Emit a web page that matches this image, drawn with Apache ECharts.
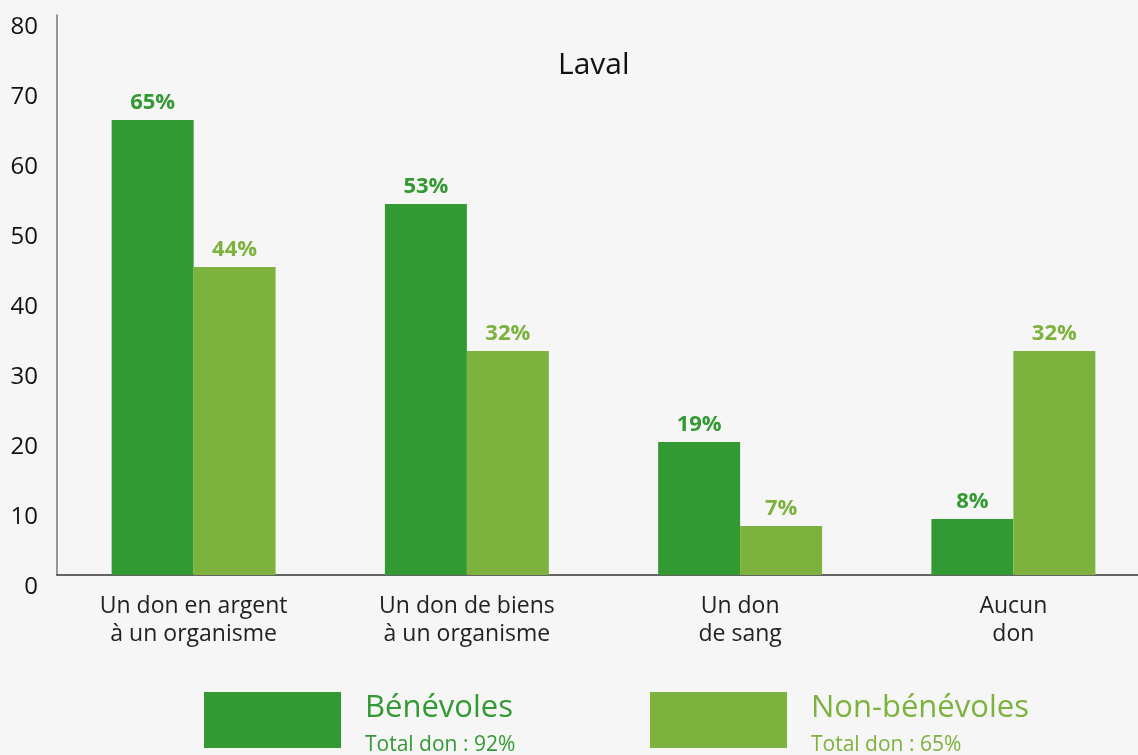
<!DOCTYPE html>
<html>
<head>
<meta charset="utf-8">
<script src="https://cdn.jsdelivr.net/npm/echarts@6/dist/echarts.min.js"></script>
<style>
html,body{margin:0;padding:0;background:#f6f6f6;}
#chart{width:1138px;height:755px;}
</style>
</head>
<body>
<div id="chart"></div>
<script>
const categories = ['Un don en argent\nà un organisme', 'Un don de biens\nà un organisme', 'Un don\nde sang', 'Aucun\ndon'];
const benevoles = [65, 53, 19, 8];
const nonBenevoles = [44, 32, 7, 32];
const seriesNames = ['Bénévoles', 'Non-bénévoles'];
const totals = ['Total don : 92%', 'Total don : 65%'];
const titleText = 'Laval';

const C1 = '#339933', C2 = '#7cb23d';
const FONT = '"Open Sans", sans-serif';

const chart = echarts.init(document.getElementById('chart'));

function legendFor(i, left, color) {
  return {
    data: [seriesNames[i]],
    left: left, top: 692, padding: 0,
    itemWidth: 137, itemHeight: 56, itemGap: 0,
    icon: 'rect',
    selectedMode: false,
    textStyle: {
      padding: [14, 0, 0, 19],
      rich: {
        a: {fontFamily: FONT, fontSize: 31, color: color, lineHeight: 36},
        b: {fontFamily: FONT, fontSize: 21, color: color, lineHeight: 38}
      }
    },
    formatter: function (n) { return '{a|' + n + '}\n{b|' + totals[i] + '}'; }
  };
}

chart.setOption({
  backgroundColor: '#f6f6f6',
  animation: false,
  title: {
    text: titleText, left: 553, top: 45,
    textStyle: {fontFamily: FONT, fontSize: 30, fontWeight: 'normal', color: '#111'}
  },
  legend: [legendFor(0, 204, C1), legendFor(1, 650, C2)],
  grid: {left: 57, right: -12, top: 15, bottom: 180, containLabel: false, outerBoundsMode: 'none'},
  xAxis: {
    type: 'category', data: categories,
    axisLine: {lineStyle: {color: '#333', width: 1.5}},
    axisTick: {show: false},
    axisLabel: {fontFamily: FONT, fontSize: 23, lineHeight: 28, color: '#222', margin: 17}
  },
  yAxis: {
    type: 'value', min: 0, max: 80, interval: 10,
    axisLine: {show: true, lineStyle: {color: '#777', width: 1.5}},
    axisTick: {show: false},
    splitLine: {show: false},
    axisLabel: {fontFamily: FONT, fontSize: 24, color: '#111', margin: 19, verticalAlign: 'top'}
  },
  series: [
    {
      name: seriesNames[0], type: 'bar', data: benevoles,
      barGap: '0%', barCategoryGap: '40%',
      itemStyle: {color: C1},
      label: {show: true, position: 'top', distance: 6, formatter: '{c}%',
        fontFamily: FONT, fontSize: 22, fontWeight: 'bold', color: C1}
    },
    {
      name: seriesNames[1], type: 'bar', data: nonBenevoles,
      barGap: '0%', barCategoryGap: '40%',
      itemStyle: {color: C2},
      label: {show: true, position: 'top', distance: 6, formatter: '{c}%',
        fontFamily: FONT, fontSize: 22, fontWeight: 'bold', color: C2}
    }
  ]
});
</script>
</body>
</html>
